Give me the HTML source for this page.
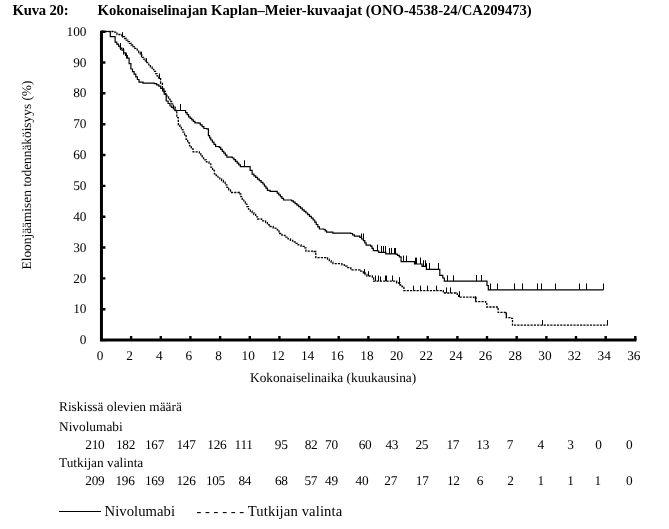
<!DOCTYPE html>
<html><head><meta charset="utf-8"><title>Kuva 20</title>
<style>
html,body{margin:0;padding:0;background:#fff;}
body{width:669px;height:529px;position:relative;overflow:hidden;font-family:"Liberation Serif",serif;color:#000;}
.t{position:absolute;white-space:nowrap;line-height:1;font-size:13.33px;text-rendering:geometricPrecision;}
.b{font-weight:bold;font-size:14.67px;text-rendering:auto;}
.c{transform:translateX(-50%);}
.r{transform:translateX(-100%);}
.n{letter-spacing:-0.3px;}
.lg{font-size:14.67px;text-rendering:auto;}
</style></head><body>
<svg width="669" height="529" viewBox="0 0 669 529" style="position:absolute;left:0;top:0">
<path d="M101.45,30.8 V340.05 H636.5" fill="none" stroke="#000" stroke-width="3" stroke-linejoin="miter"/>
<path d="M131.1,340.05 v-4 M160.8,340.05 v-4 M190.4,340.05 v-4 M220.1,340.05 v-4 M249.8,340.05 v-4 M279.4,340.05 v-4 M309.1,340.05 v-4 M338.7,340.05 v-4 M368.4,340.05 v-4 M398.1,340.05 v-4 M427.7,340.05 v-4 M457.4,340.05 v-4 M487.0,340.05 v-4 M516.7,340.05 v-4 M546.4,340.05 v-4 M576.0,340.05 v-4 M605.7,340.05 v-4 M635.3,340.05 v-4 M101.45,340.1 h4 M101.45,309.2 h4 M101.45,278.4 h4 M101.45,247.5 h4 M101.45,216.7 h4 M101.45,185.9 h4 M101.45,155.0 h4 M101.45,124.2 h4 M101.45,93.3 h4 M101.45,62.5 h4 M101.45,31.7 h4" stroke="#000" stroke-width="2.4" fill="none"/>
<polyline points="101.5,31.5 110.3,31.5 110.3,36.7 114.8,36.7 115.1,36.7 115.1,42.1 116.8,42.1 116.8,44.1 118.5,44.1 118.5,46.1 120.2,46.1 120.2,48.1 121.9,48.1 121.9,50.1 123.7,50.1 123.7,52.8 125.5,52.8 125.5,55.5 127.3,55.5 127.3,58.2 129.1,58.2 129.1,63.6 130.9,63.6 130.9,69.0 132.5,69.0 132.5,71.6 134.1,71.6 134.1,74.2 135.8,74.2 135.8,76.9 137.4,76.9 137.4,79.5 139.0,79.5 139.0,82.1 143.0,82.1 143.0,83.2 154.3,83.2 154.3,83.6 156.6,83.6 156.6,84.8 158.8,84.8 158.8,86.1 160.7,86.1 160.7,88.4 162.6,88.4 162.6,90.8 164.2,90.8 164.2,94.2 166.2,94.2 166.2,101.0 168.1,101.0 168.1,103.5 170.0,103.5 170.0,106.0 171.7,106.0 171.7,107.5 173.4,107.5 173.4,109.0 175.1,109.0 175.1,110.5 184.1,110.5 185.6,110.5 185.6,112.6 187.1,112.6 187.1,114.7 188.6,114.7 188.6,116.8 190.2,116.8 190.2,118.3 191.8,118.3 191.8,119.8 193.3,119.8 193.3,121.3 194.9,121.3 194.9,122.8 198.5,122.8 198.5,123.1 200.3,123.1 200.3,124.9 202.1,124.9 202.1,126.7 203.9,126.7 203.9,128.5 206.6,128.5 206.6,128.9 208.4,128.9 208.4,135.7 209.6,135.7 209.6,137.8 210.8,137.8 210.8,140.0 212.4,140.0 212.4,142.2 214.0,142.2 214.0,144.3 215.6,144.3 215.6,146.5 219.2,146.5 219.2,147.4 220.7,147.4 220.7,149.3 222.3,149.3 222.3,151.3 223.8,151.3 223.8,153.2 225.4,153.2 225.4,155.2 226.9,155.2 226.9,157.1 232.3,157.1 232.3,158.0 233.9,158.0 233.9,159.7 235.5,159.7 235.5,161.4 237.2,161.4 237.2,163.2 238.8,163.2 238.8,164.9 240.4,164.9 240.4,166.6 248.1,166.6 250.1,166.6 250.1,170.3 252.1,170.3 252.1,174.1 253.9,174.1 253.9,175.8 255.7,175.8 255.7,177.4 257.5,177.4 257.5,179.1 259.3,179.1 259.3,180.7 261.1,180.7 261.1,182.3 262.9,182.3 262.9,184.0 264.4,184.0 264.4,186.1 265.9,186.1 265.9,188.2 267.4,188.2 267.4,190.3 270.0,190.3 270.0,191.3 277.2,191.3 277.2,193.1 278.8,193.1 278.8,194.8 280.4,194.8 280.4,196.6 281.9,196.6 281.9,198.3 283.5,198.3 283.5,200.0 291.6,200.0 291.6,200.8 293.4,200.8 293.4,202.2 295.1,202.2 295.1,203.7 296.9,203.7 296.9,205.2 298.7,205.2 298.7,206.6 300.5,206.6 300.5,208.2 302.3,208.2 302.3,209.8 304.1,209.8 304.1,211.4 305.9,211.4 305.9,213.0 307.7,213.0 307.7,214.6 309.5,214.6 309.5,216.4 311.3,216.4 311.3,218.2 313.1,218.2 313.1,220.0 314.7,220.0 314.7,222.2 316.2,222.2 316.2,224.5 317.8,224.5 317.8,226.8 319.4,226.8 319.4,229.0 323.9,229.0 323.9,229.5 325.2,229.5 325.2,230.8 326.6,230.8 326.6,232.1 332.9,232.1 332.9,233.1 350.8,233.1 350.8,233.5 352.6,233.5 352.6,234.8 354.4,234.8 354.4,236.2 359.8,236.2 359.8,237.3 361.6,237.3 361.6,239.0 363.4,239.0 363.4,240.7 364.8,240.7 364.8,242.9 366.1,242.9 366.1,245.2 370.6,245.2 370.6,246.1 372.0,246.1 372.0,248.3 373.3,248.3 373.3,250.6 377.8,250.6 377.8,251.0 378.7,251.0 378.7,252.4 385.8,252.4 385.8,253.8 395.7,253.8 395.7,254.1 397.5,254.1 397.5,255.4 399.3,255.4 399.3,256.8 401.1,256.8 401.1,261.7 414.5,261.7 414.5,264.0 422.0,264.0 422.0,266.3 426.4,266.3 426.4,269.3 439.8,269.3 439.8,275.3 442.8,275.3 442.8,278.0 444.3,278.0 444.3,281.1 485.6,281.1 487.0,281.1 487.0,285.5 488.3,285.5 488.3,289.9 603.3,289.9" fill="none" stroke="#000" stroke-width="1.2" stroke-linejoin="miter"/>
<path d="M120.5,43 V50.1 M123.5,47.9 V54.6 M126.5,52.8 V58.4 M180.5,104 V110.5 M244.5,160.3 V166.6 M361.5,233.5 V238 M363.5,233.5 V240 M377.5,244.5 V251 M381.5,246 V252.5 M383.5,246 V252.5 M385.5,246 V252.5 M389.5,248 V254 M391.5,248 V254 M394.5,248 V254 M395.5,248 V254 M403.5,255.6 V261.7 M406.5,255.6 V261.7 M415.5,257.6 V264 M416.5,257.6 V264 M420.5,257.6 V264 M423.5,260.2 V266.3 M425.5,260.2 V266.3 M426.5,263.2 V269.3 M429.5,262.9 V269.3 M438.5,262.9 V269.3 M447.5,275.3 V281.1 M453.5,275.3 V281.1 M476.5,275 V281.1 M481.5,275 V281.1 M490.5,283.5 V289.9 M497.5,283.5 V289.9 M514.5,283.5 V289.9 M522.5,283.5 V289.9 M537.5,283.5 V289.9 M541.5,283.5 V289.9 M555.5,283.5 V289.9 M579.5,283.5 V289.9 M586.5,283.5 V289.9 M603.5,283.5 V289.9" stroke="#000" stroke-width="1" fill="none"/>
<polyline points="101.5,31.5 113.0,31.5 113.0,32.2 117.0,32.2 117.0,34.5 121.9,34.5 121.9,36.7 124.6,36.7 124.6,38.5 126.2,38.5 126.2,40.1 127.8,40.1 127.8,41.7 129.5,41.7 129.5,43.4 131.1,43.4 131.1,45.0 132.7,45.0 132.7,46.6 134.9,46.6 134.9,48.4 137.2,48.4 137.2,50.1 138.7,50.1 138.7,52.5 140.2,52.5 140.2,54.9 141.7,54.9 141.7,57.3 143.5,57.3 143.5,59.1 145.3,59.1 145.3,60.9 147.1,60.9 147.1,62.7 148.8,62.7 148.8,64.9 150.4,64.9 150.4,67.1 152.1,67.1 152.1,69.3 153.8,69.3 153.8,71.4 155.5,71.4 155.5,73.6 157.1,73.6 157.1,75.8 158.8,75.8 158.8,78.0 160.6,78.0 160.6,83.4 162.4,83.4 162.4,88.8 163.9,88.8 163.9,91.5 165.4,91.5 165.4,94.2 166.9,94.2 166.9,96.9 168.5,96.9 168.5,99.2 170.0,99.2 170.0,101.5 171.6,101.5 171.6,103.8 173.4,103.8 173.4,107.2 175.2,107.2 175.2,110.5 176.8,110.5 176.8,117.7 178.3,117.7 178.3,124.9 179.9,124.9 179.9,127.3 181.4,127.3 181.4,129.7 183.0,129.7 183.0,132.1 184.6,132.1 184.6,135.7 186.1,135.7 186.1,139.3 187.7,139.3 187.7,142.9 189.5,142.9 189.5,145.9 191.3,145.9 191.3,148.9 193.1,148.9 193.1,151.9 199.4,151.9 199.4,153.7 200.8,153.7 200.8,155.7 202.2,155.7 202.2,157.8 203.6,157.8 203.6,159.8 206.3,159.8 206.3,161.8 209.0,161.8 209.0,163.8 210.8,163.8 210.8,167.1 212.6,167.1 212.6,170.5 214.4,170.5 214.4,173.8 216.2,173.8 216.2,175.5 218.0,175.5 218.0,177.2 219.8,177.2 219.8,178.8 221.6,178.8 221.6,180.5 223.4,180.5 223.4,182.2 225.2,182.2 225.2,184.8 226.9,184.8 226.9,187.3 228.7,187.3 228.7,189.9 230.5,189.9 230.5,192.5 239.5,192.5 239.5,193.9 240.8,193.9 240.8,196.6 242.2,196.6 242.2,199.3 243.8,199.3 243.8,201.8 245.3,201.8 245.3,204.2 246.9,204.2 246.9,206.7 248.5,206.7 248.5,209.2 250.3,209.2 250.3,211.0 252.1,211.0 252.1,212.7 253.9,212.7 253.9,214.5 255.7,214.5 255.7,216.8 257.5,216.8 257.5,219.0 261.6,219.0 261.6,220.8 265.6,220.8 265.6,222.6 267.4,222.6 267.4,224.6 269.2,224.6 269.2,226.5 273.2,226.5 273.2,228.2 277.2,228.2 277.2,229.8 279.0,229.8 279.0,233.5 282.0,233.5 282.0,235.3 285.0,235.3 285.0,237.1 288.0,237.1 288.0,238.9 290.4,238.9 290.4,240.4 292.7,240.4 292.7,241.9 295.1,241.9 295.1,243.4 298.1,243.4 298.1,244.9 301.1,244.9 301.1,246.4 304.1,246.4 304.1,247.9 305.9,247.9 305.9,251.1 314.0,251.1 314.0,251.5 315.8,251.5 315.8,257.7 325.7,257.7 327.5,257.7 327.5,259.2 329.3,259.2 329.3,260.7 331.1,260.7 331.1,262.2 332.9,262.2 332.9,263.7 341.9,263.7 341.9,264.9 344.5,264.9 344.5,266.2 347.2,266.2 347.2,267.6 350.8,267.6 350.8,269.9 359.8,269.9 359.8,271.2 363.4,271.2 363.4,273.0 365.1,273.0 365.1,274.5 366.9,274.5 366.9,276.0 372.3,276.0 372.3,277.1 373.6,277.1 373.6,281.2 383.1,281.2 394.5,281.2 396.6,281.2 396.6,283.0 400.0,283.0 400.0,285.0 402.0,285.0 402.0,286.5 403.9,286.5 403.9,290.6 442.4,290.6 443.3,290.6 443.3,293.0 455.9,293.0 455.9,293.5 457.2,293.5 457.2,295.3 458.6,295.3 458.6,297.1 473.9,297.1 473.9,297.5 476.0,297.5 476.0,301.6 485.6,301.6 485.6,302.1 486.8,302.1 486.8,307.0 497.2,307.0 497.2,307.5 498.1,307.5 498.1,312.4 505.3,312.4 505.3,312.9 506.2,312.9 506.2,317.7 510.7,317.7 510.7,318.3 512.5,318.3 512.5,325.2 607.6,325.2" fill="none" stroke="#000" stroke-width="1.3" stroke-dasharray="2.2 1.1"/>
<path d="M122.5,32.2 V37.6 M141.5,51.6 V57.3 M146.5,58.2 V62.7 M159.5,73.5 V79 M364.5,269 V273.9 M368.5,271.2 V276 M375.5,275.5 V281.2 M378.5,275.5 V281.2 M380.5,276.5 V281.2 M385.5,275.5 V281.2 M386.5,275.5 V281.2 M392.5,275.5 V281.2 M399.5,277.2 V284.4 M413.5,285.6 V290.6 M420.5,285.6 V290.6 M427.5,285.6 V290.6 M436.5,285.6 V290.6 M446.5,287.4 V293 M450.5,287.4 V293 M459.5,291.3 V297.1 M475.5,296.2 V301.6 M506.5,312.4 V317.7 M542.5,320.1 V325.2 M607.5,320.1 V325.2" stroke="#000" stroke-width="1" fill="none"/>
</svg>
<div class="t b" style="left:12.6px;top:3px;letter-spacing:-0.2px">Kuva 20:</div>
<div class="t b" style="left:97.5px;top:3px">Kokonaiselinajan Kaplan–Meier-kuvaajat (ONO-4538-24/CA209473)</div>
<div class="t r" style="left:86.5px;top:333.2px">0</div>
<div class="t r" style="left:86.5px;top:302.3px">10</div>
<div class="t r" style="left:86.5px;top:271.5px">20</div>
<div class="t r" style="left:86.5px;top:240.6px">30</div>
<div class="t r" style="left:86.5px;top:209.8px">40</div>
<div class="t r" style="left:86.5px;top:179.0px">50</div>
<div class="t r" style="left:86.5px;top:148.1px">60</div>
<div class="t r" style="left:86.5px;top:117.3px">70</div>
<div class="t r" style="left:86.5px;top:86.4px">80</div>
<div class="t r" style="left:86.5px;top:55.6px">90</div>
<div class="t r" style="left:86.5px;top:24.8px">100</div>
<div class="t c" style="left:100.0px;top:349px">0</div>
<div class="t c" style="left:129.6px;top:349px">2</div>
<div class="t c" style="left:159.3px;top:349px">4</div>
<div class="t c" style="left:188.9px;top:349px">6</div>
<div class="t c" style="left:218.6px;top:349px">8</div>
<div class="t c" style="left:248.2px;top:349px">10</div>
<div class="t c" style="left:277.9px;top:349px">12</div>
<div class="t c" style="left:307.6px;top:349px">14</div>
<div class="t c" style="left:337.2px;top:349px">16</div>
<div class="t c" style="left:366.9px;top:349px">18</div>
<div class="t c" style="left:396.6px;top:349px">20</div>
<div class="t c" style="left:426.2px;top:349px">22</div>
<div class="t c" style="left:455.9px;top:349px">24</div>
<div class="t c" style="left:485.5px;top:349px">26</div>
<div class="t c" style="left:515.2px;top:349px">28</div>
<div class="t c" style="left:544.9px;top:349px">30</div>
<div class="t c" style="left:574.5px;top:349px">32</div>
<div class="t c" style="left:604.2px;top:349px">34</div>
<div class="t c" style="left:633.8px;top:349px">36</div>
<div class="t" style="left:27.3px;top:175px;transform-origin:50% 50%;transform:translate(-50%,-50%) rotate(-90deg)">Eloonjäämisen todennäköisyys (%)</div>
<div class="t" style="left:250px;top:371px">Kokonaiselinaika (kuukausina)</div>
<div class="t" style="left:59px;top:400px">Riskissä olevien määrä</div>
<div class="t" style="left:59px;top:420px">Nivolumabi</div>
<div class="t" style="left:59px;top:456px">Tutkijan valinta</div>
<div class="t c n" style="left:94.85px;top:438px">210</div>
<div class="t c n" style="left:125.50px;top:438px">182</div>
<div class="t c n" style="left:154.50px;top:438px">167</div>
<div class="t c n" style="left:186.00px;top:438px">147</div>
<div class="t c n" style="left:216.90px;top:438px">126</div>
<div class="t c n" style="left:243.60px;top:438px">111</div>
<div class="t c n" style="left:281.20px;top:438px">95</div>
<div class="t c n" style="left:311.10px;top:438px">82</div>
<div class="t c n" style="left:331.45px;top:438px">70</div>
<div class="t c n" style="left:365.05px;top:438px">60</div>
<div class="t c n" style="left:391.75px;top:438px">43</div>
<div class="t c n" style="left:421.80px;top:438px">25</div>
<div class="t c n" style="left:452.85px;top:438px">17</div>
<div class="t c n" style="left:482.70px;top:438px">13</div>
<div class="t c n" style="left:509.85px;top:438px">7</div>
<div class="t c n" style="left:540.70px;top:438px">4</div>
<div class="t c n" style="left:570.50px;top:438px">3</div>
<div class="t c n" style="left:598.45px;top:438px">0</div>
<div class="t c n" style="left:629.15px;top:438px">0</div>
<div class="t c n" style="left:94.85px;top:474px">209</div>
<div class="t c n" style="left:125.00px;top:474px">196</div>
<div class="t c n" style="left:154.50px;top:474px">169</div>
<div class="t c n" style="left:186.00px;top:474px">126</div>
<div class="t c n" style="left:215.45px;top:474px">105</div>
<div class="t c n" style="left:244.80px;top:474px">84</div>
<div class="t c n" style="left:281.25px;top:474px">68</div>
<div class="t c n" style="left:310.85px;top:474px">57</div>
<div class="t c n" style="left:331.40px;top:474px">49</div>
<div class="t c n" style="left:361.90px;top:474px">40</div>
<div class="t c n" style="left:390.65px;top:474px">27</div>
<div class="t c n" style="left:422.15px;top:474px">17</div>
<div class="t c n" style="left:453.25px;top:474px">12</div>
<div class="t c n" style="left:480.00px;top:474px">6</div>
<div class="t c n" style="left:510.45px;top:474px">2</div>
<div class="t c n" style="left:540.65px;top:474px">1</div>
<div class="t c n" style="left:570.40px;top:474px">1</div>
<div class="t c n" style="left:597.65px;top:474px">1</div>
<div class="t c n" style="left:629.15px;top:474px">0</div>
<div style="position:absolute;left:59.3px;top:510.5px;width:41.5px;height:1.2px;background:#000"></div>
<div class="t lg" style="left:104.5px;top:504px;letter-spacing:0.05px">Nivolumabi</div>
<div class="t lg" style="left:196.5px;top:504px">- - - - - - <span style="letter-spacing:0.12px">Tutkijan valinta</span></div>
</body></html>
